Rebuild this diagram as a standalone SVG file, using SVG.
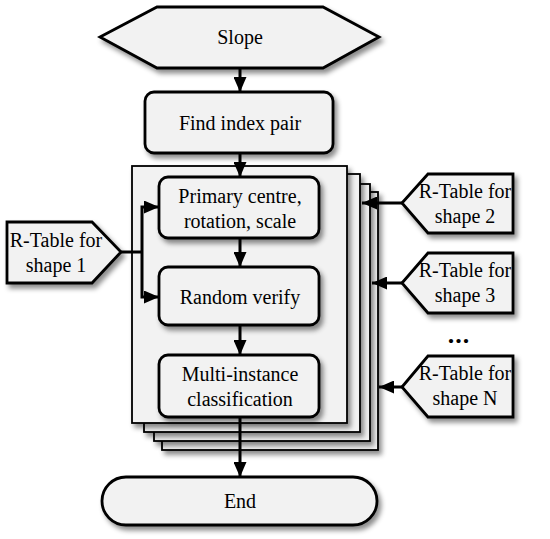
<svg xmlns="http://www.w3.org/2000/svg" width="550" height="539" viewBox="0 0 550 539">
<defs>
<filter id="sh" x="-10%" y="-10%" width="130%" height="140%">
<feDropShadow dx="3" dy="4" stdDeviation="2.5" flood-color="#000" flood-opacity="0.45"/>
</filter>
<marker id="ah" markerUnits="userSpaceOnUse" markerWidth="15" markerHeight="13" refX="15" refY="6.5" orient="auto">
<path d="M0,0 L15,6.5 L0,13 z" fill="#000"/>
</marker>
<style>
.node{fill:#f2f2f2;stroke:#000;stroke-width:2.8;filter:url(#sh)}
.page{fill:#f2f2f2;stroke:#000;stroke-width:1.8;filter:url(#sh)}
.t{font-family:"Liberation Serif","Times New Roman",serif;font-size:20px;fill:#000;text-anchor:middle}
.c{fill:none;stroke:#000;stroke-width:3}
.a{marker-end:url(#ah)}
</style>
</defs>
<g id="pages">
<rect class="page" x="162" y="192" width="216" height="258"/>
<rect class="page" x="154" y="184" width="216" height="257"/>
<rect class="page" x="144" y="174" width="216" height="258"/>
<rect class="page" x="132" y="166" width="215" height="257"/>
</g>
<g id="connectors">
<line class="c a" x1="240" y1="68" x2="240" y2="92"/>
<line class="c a" x1="240" y1="153" x2="240" y2="177"/>
<line class="c a" x1="240" y1="238" x2="240" y2="267"/>
<line class="c a" x1="240" y1="325" x2="240" y2="355"/>
<line class="c a" x1="240" y1="417" x2="240" y2="477"/>
<polyline class="c" points="121,252 142,252"/>
<polyline class="c a" points="142,252 142,207 159,207"/>
<polyline class="c a" points="142,252 142,297 159,297"/>
<line class="c a" x1="402" y1="203" x2="362" y2="203"/>
<line class="c a" x1="402" y1="283" x2="372" y2="283"/>
<line class="c a" x1="402" y1="387" x2="379" y2="387"/>
</g>
<g id="slope">
<polygon class="node" points="100,37 157,7 323,7 379,37 323,68 157,68"/>
<text class="t" x="240" y="44">Slope</text>
</g>
<g id="find">
<rect class="node" x="145" y="92" width="188" height="61" rx="9"/>
<text class="t" x="240" y="130">Find index pair</text>
</g>
<g id="primary">
<rect class="node" x="159" y="177" width="160" height="61" rx="9"/>
<text class="t" x="240" y="203">Primary centre,</text>
<text class="t" x="240" y="228">rotation, scale</text>
</g>
<g id="random">
<rect class="node" x="159" y="267" width="160" height="58" rx="9"/>
<text class="t" x="240" y="304">Random verify</text>
</g>
<g id="multi">
<rect class="node" x="159" y="355" width="160" height="62" rx="9"/>
<text class="t" x="240" y="381">Multi-instance</text>
<text class="t" x="240" y="406">classification</text>
</g>
<g id="end">
<rect class="node" x="102" y="477" width="275" height="48" rx="24"/>
<text class="t" x="240" y="508">End</text>
</g>
<g id="rt1">
<polygon class="node" points="7,222 92,222 121,252 92,283 7,283"/>
<text class="t" x="56" y="247">R-Table for</text>
<text class="t" x="56" y="272">shape 1</text>
</g>
<g id="rt2">
<polygon class="node" points="402,203 428,174 513,174 513,233 428,233"/>
<text class="t" x="465" y="198">R-Table for</text>
<text class="t" x="465" y="223">shape 2</text>
</g>
<g id="rt3">
<polygon class="node" points="402,283 428,253 513,253 513,313 428,313"/>
<text class="t" x="465" y="277">R-Table for</text>
<text class="t" x="465" y="302">shape 3</text>
</g>
<text class="t" x="459" y="343" style="font-weight:bold;font-size:26px;letter-spacing:1px">...</text>
<g id="rtN">
<polygon class="node" points="402,387 428,356 513,356 513,417 428,417"/>
<text class="t" x="465" y="380">R-Table for</text>
<text class="t" x="465" y="405">shape N</text>
</g>
</svg>
